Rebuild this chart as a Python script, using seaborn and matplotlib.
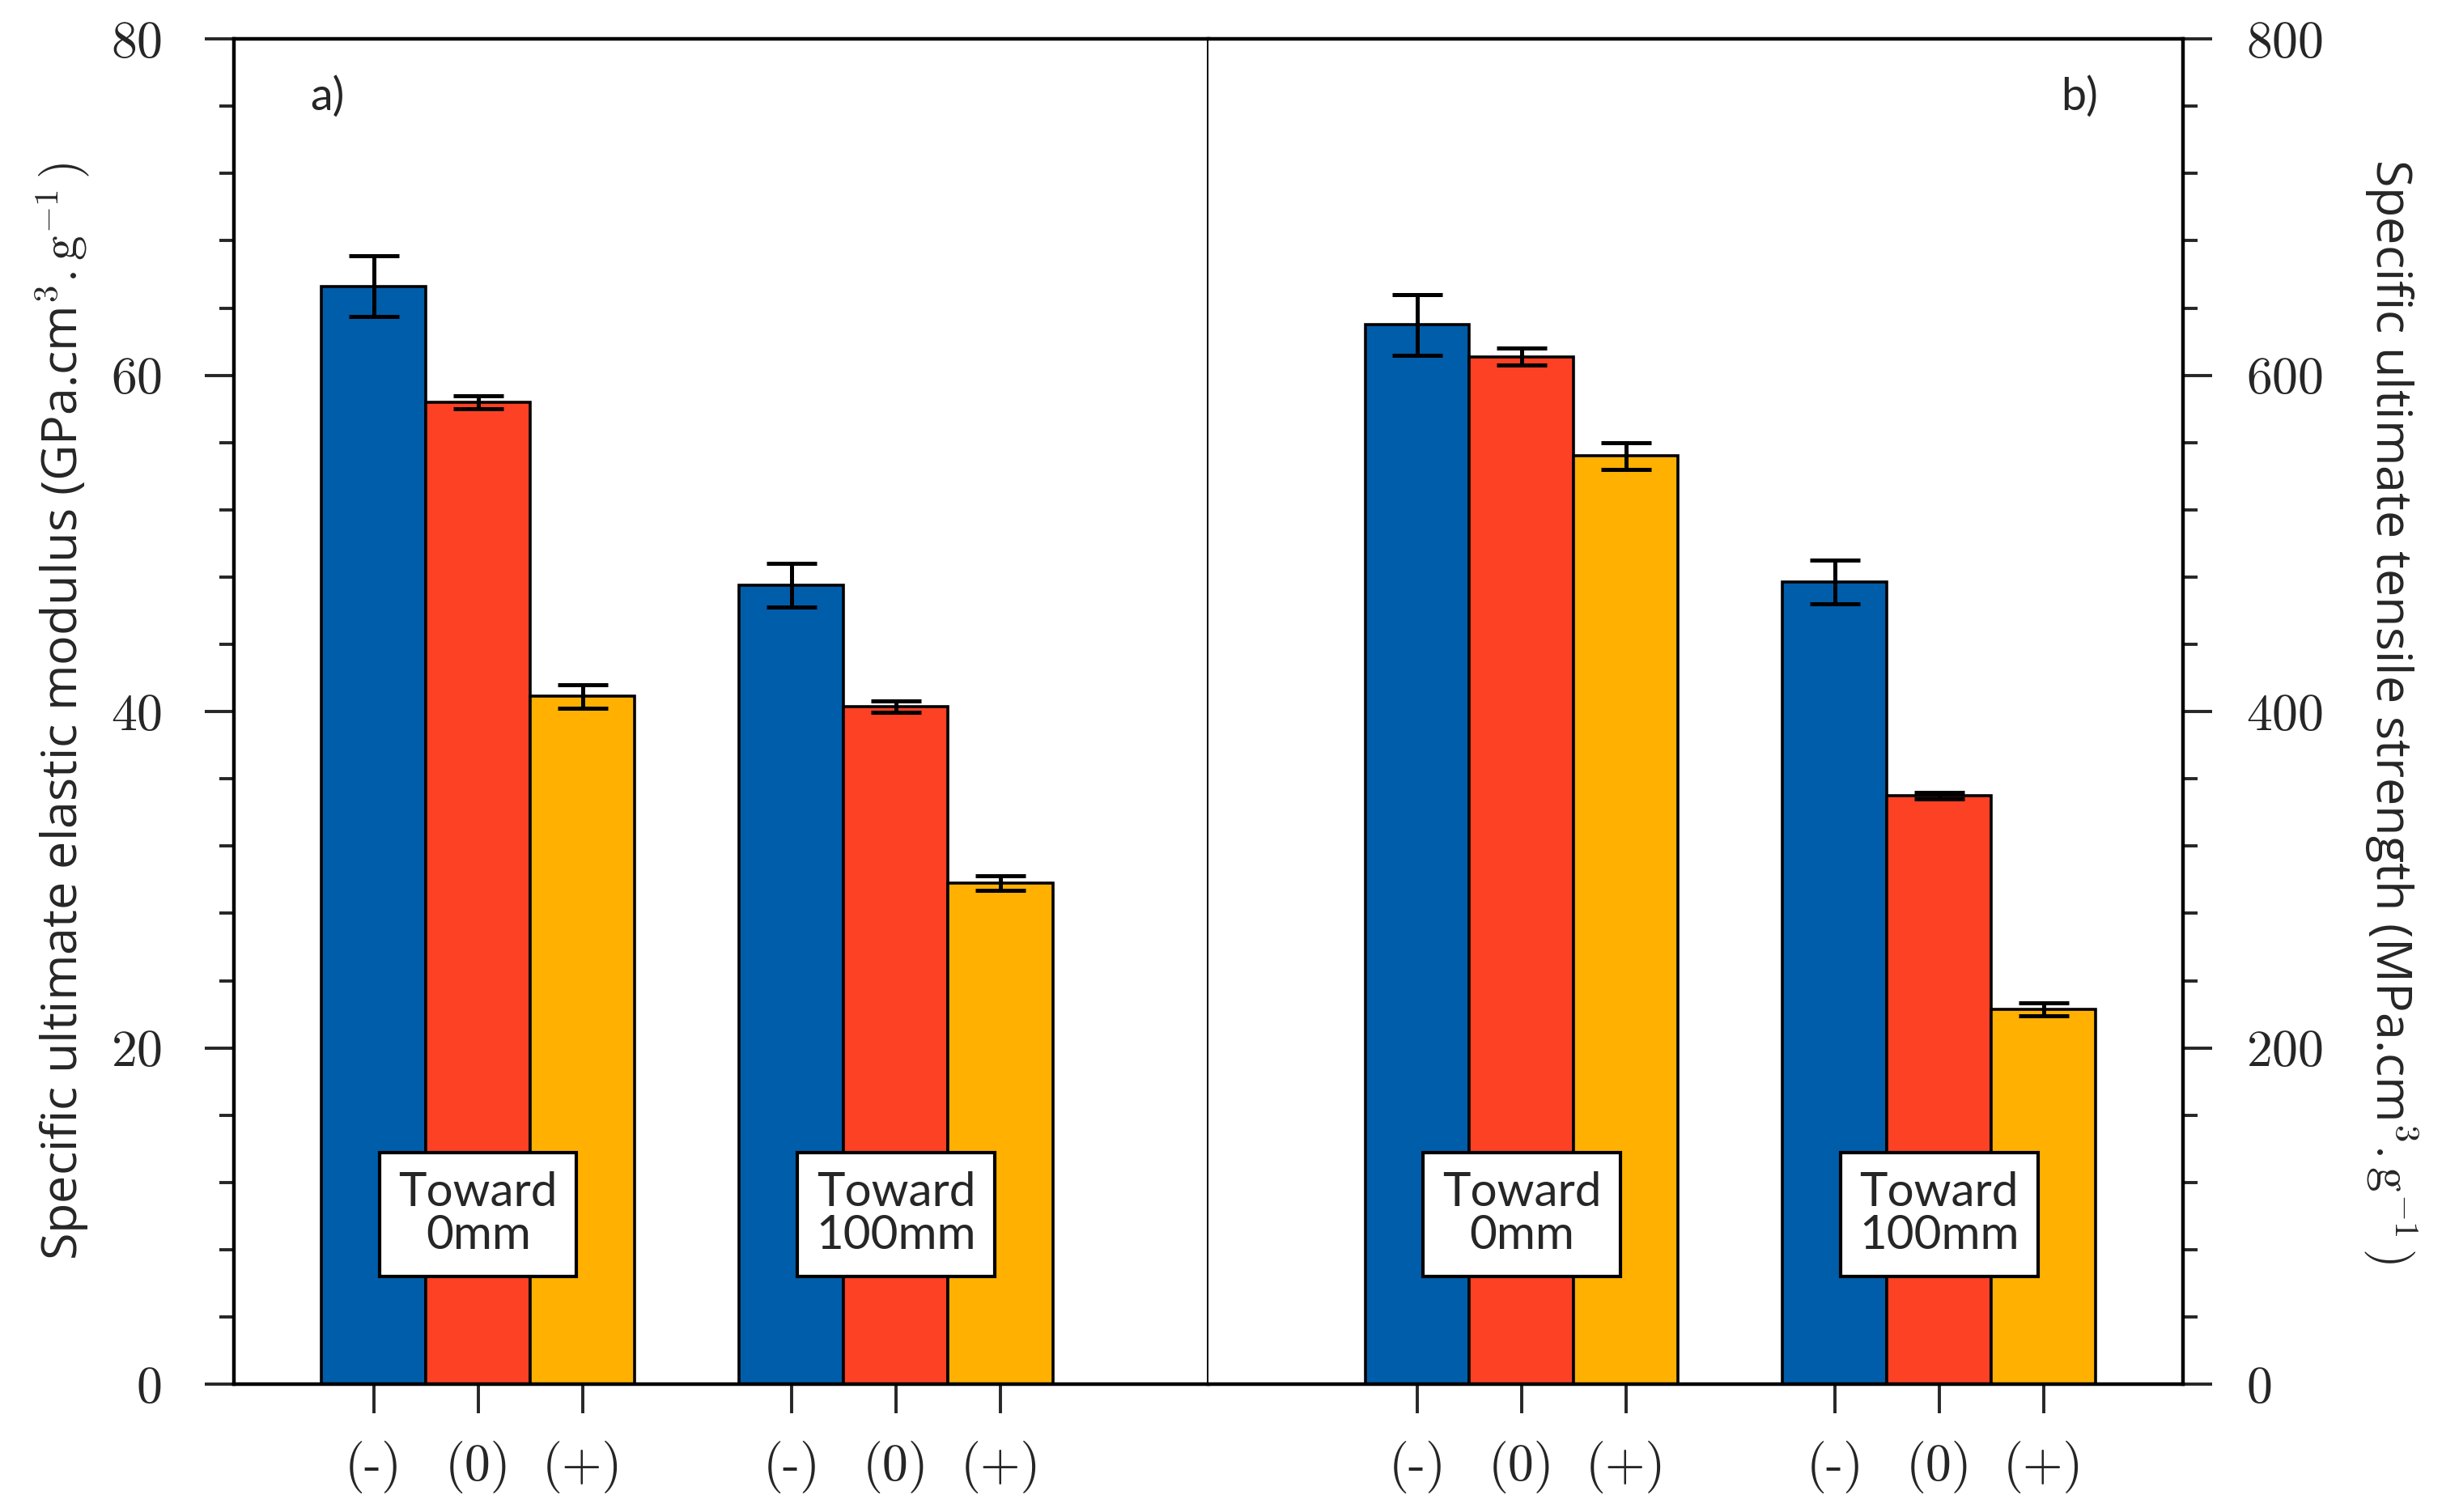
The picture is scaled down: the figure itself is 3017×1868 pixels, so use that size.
import pandas as pd
import matplotlib.pyplot as plt
import matplotlib.ticker as mticker
import seaborn as sns

# Data
groups = ['Toward\n0mm', 'Toward\n100mm']
levels = ['(-)', '(0)', '(+)']

# a) specific ultimate elastic modulus (GPa.cm3.g-1)
modulus = [65.3, 58.4, 40.9, 47.5, 40.3, 29.8]
modulus_err = [1.8, 0.4, 0.7, 1.3, 0.35, 0.45]

# b) specific ultimate tensile strength (MPa.cm3.g-1)
strength = [630, 611, 552, 477, 350, 223]
strength_err = [18, 5, 8, 13, 2, 4]

colors = ['#005DAA', '#FC4124', '#FFB000']

sns.set_theme(style='ticks')
plt.rcParams['font.family'] = ['Open Sans', 'DejaVu Sans']
plt.rcParams['mathtext.fontset'] = 'cm'
plt.rcParams['axes.formatter.use_mathtext'] = True

def make_df(vals, errs):
    rows = []
    k = 0
    for g in groups:
        for lv in levels:
            rows.append({'group': g, 'level': lv, 'value': vals[k], 'err': errs[k]})
            k += 1
    return pd.DataFrame(rows)

df_a = make_df(modulus, modulus_err)
df_b = make_df(strength, strength_err)

fig = plt.figure(figsize=(15.085, 9.34), dpi=200)
ax1 = fig.add_axes([0.0957, 0.0845, 0.3992, 0.8897])
ax2 = fig.add_axes([0.4949, 0.0845, 0.3992, 0.8897])

tick_font = dict(family='cmr10', size=23)


def draw_panel(ax, df, xlim, ymax, major, minor, box_y):
    sns.barplot(data=df, x='group', y='value', hue='level', hue_order=levels,
                palette=colors, width=0.75, edgecolor='black', linewidth=1.3,
                errorbar=None, legend=False, saturation=1, ax=ax)
    bar_sets = list(ax.containers)
    centers = []
    for i, cont in enumerate(bar_sets):
        xs = [p.get_x() + p.get_width() / 2 for p in cont.patches]
        sub = df[df['level'] == levels[i]]
        ax.errorbar(xs, sub['value'], yerr=sub['err'], fmt='none', ecolor='black',
                    elinewidth=1.8, capsize=11, capthick=1.8, zorder=5)
        centers += xs
    centers = sorted(centers)
    ax.set_xticks(centers)
    ax.set_xticklabels(levels * len(groups), fontdict=tick_font)
    ax.set_xlim(*xlim)
    ax.set_ylim(0, ymax)
    ax.yaxis.set_major_locator(mticker.MultipleLocator(major))
    ax.yaxis.set_minor_locator(mticker.MultipleLocator(minor))
    ax.set_xlabel('')
    for j, g in enumerate(groups):
        ax.text(j, box_y, g, ha='center', va='center', fontsize=21,
                family=['Lato', 'DejaVu Sans'], linespacing=1.0, zorder=6,
                bbox=dict(boxstyle='square,pad=0.4', fc='white', ec='black', lw=1.5))
    ax.tick_params(axis='x', length=13, width=1.4, pad=12, direction='out')
    ax.tick_params(axis='y', which='major', length=13, width=1.4, direction='out')
    ax.tick_params(axis='y', which='minor', length=6.5, width=1.4, direction='out')
    for lab in ax.get_yticklabels():
        lab.set_fontfamily('cmr10')
        lab.set_fontsize(23)
    for s in ax.spines.values():
        s.set_linewidth(1.6)
        s.set_color('black')


draw_panel(ax1, df_a, (-0.585, 1.748), 80, 20, 4, 10.1)
draw_panel(ax2, df_b, (-0.75, 1.585), 800, 200, 40, 101)

# left panel: axis on the left, separating line on the right
ax1.spines['right'].set_linewidth(1.4)
ax1.tick_params(axis='y', pad=19)
ax2.spines['left'].set_visible(False)
ax2.yaxis.tick_right()
ax2.yaxis.set_label_position('right')
ax2.tick_params(axis='y', which='both', right=True, left=False, pad=15)
for lab in ax2.get_yticklabels():
    lab.set_fontfamily('cmr10')
    lab.set_fontsize(23)

ax1.set_ylabel(r'Specific ultimate elastic modulus (GPa.cm$^{3}\mathrm{.g}^{-1}\,)$', fontsize=22)
ax1.yaxis.set_label_coords(-0.176, 0.5)
ax1.yaxis.label.set_va('center')
ax2.set_ylabel(r'Specific ultimate tensile strength (MPa.cm$^{3}\mathrm{.g}^{-1}\,)$', fontsize=22,
               rotation=-90)
ax2.yaxis.set_label_coords(1.213, 0.5)
ax2.yaxis.label.set_va('center')

ax1.text(0.096, 0.957, 'a)', transform=ax1.transAxes, ha='center', va='center',
         fontsize=20, family=['Lato', 'DejaVu Sans'])
ax2.text(0.893, 0.957, 'b)', transform=ax2.transAxes, ha='center', va='center',
         fontsize=20, family=['Lato', 'DejaVu Sans'])

fig.savefig('out.png', dpi=200, facecolor='white')
